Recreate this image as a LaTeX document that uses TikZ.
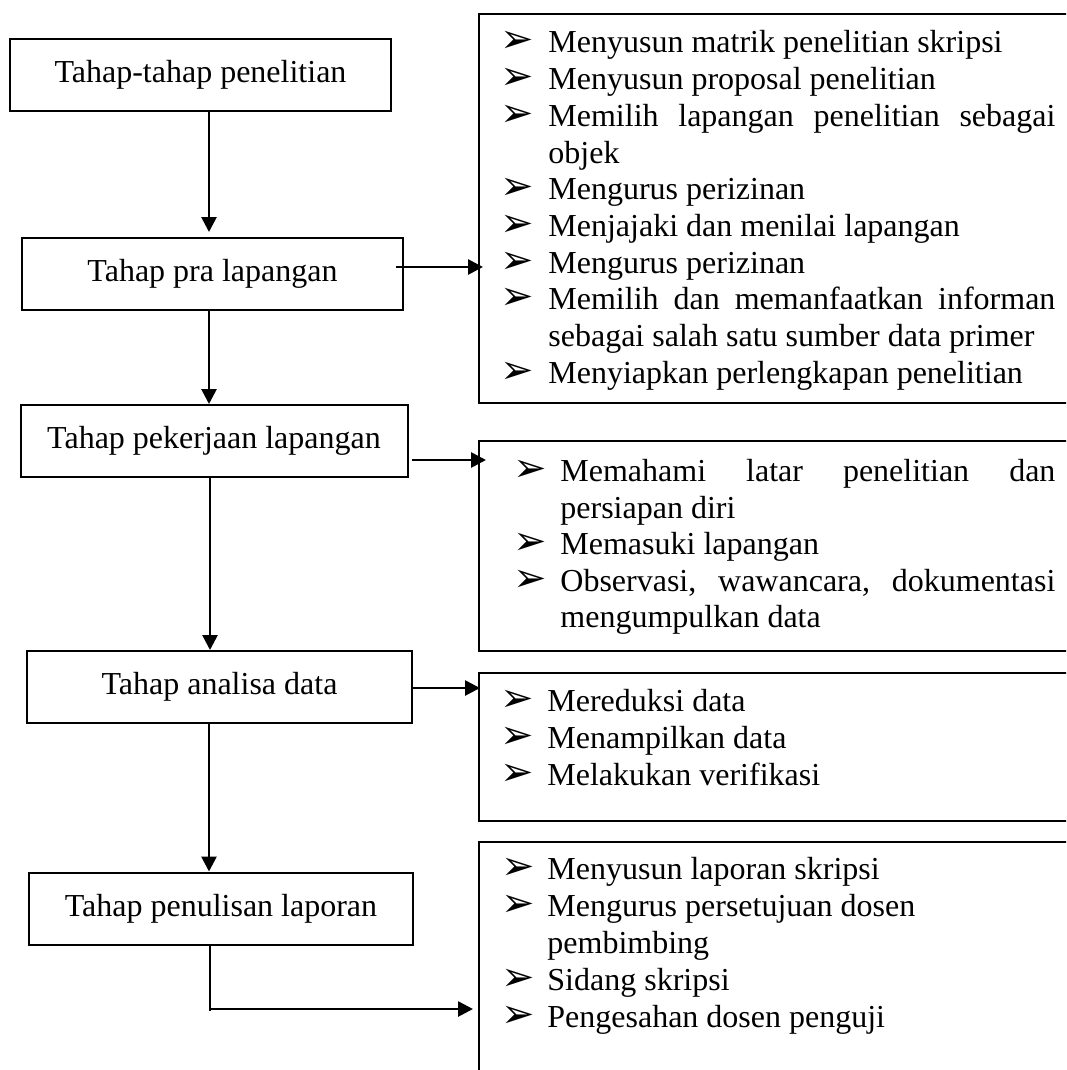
\documentclass[tikz,border=0pt]{standalone}
\usepackage{fontspec}
\setmainfont{Liberation Serif}
\newfontfamily\dejavu{DejaVu Sans}
\usetikzlibrary{arrows.meta,calc}
\begin{document}
\begin{tikzpicture}[x=0.5pt,y=-0.5pt,
  txt/.style={font=\fontsize{16}{18.35}\selectfont},
  stage/.style={txt,draw,line width=1pt,minimum height=36pt,inner sep=0pt},
  panel/.style={draw,line width=1pt,anchor=north west,inner sep=0pt,minimum width=320pt},
  item/.style={txt,anchor=base west,inner sep=0pt},
  bul/.style={anchor=base west,inner sep=0pt,font=\dejavu\fontsize{20}{20}\selectfont},
  arr/.style={line width=1.35pt,-{Triangle[length=7.5pt,width=7.5pt]}},
  plain/.style={line width=1pt}]
\clip (0,0) rectangle (1066,1070);
\fill[white] (0,0) rectangle (1066,1070);
% stages
\node[stage,minimum width=190.5pt] (A) at (200.5,75) {Tahap-tahap penelitian};
\node[stage,minimum width=190.5pt] (B) at (212.5,274) {Tahap pra lapangan};
\node[stage,minimum width=193.5pt] (C) at (214,441) {Tahap pekerjaan lapangan};
\node[stage,minimum width=192.5pt] (D) at (219.5,687) {Tahap analisa data};
\node[stage,minimum width=192pt] (E) at (221,908.5) {Tahap penulisan laporan};
% panels
\node[panel,minimum height=194.5pt] (R1) at (478,13) {};
\node[panel,minimum height=105pt] (R2) at (478,440) {};
\node[panel,minimum height=74pt] (R3) at (478,672) {};
\node[panel,minimum height=130pt] (R4) at (478,841) {};
% panel 1
\node[bul] (b11) at (500,53) {➢};
\node[item] (t11) at (548,53) {Menyusun matrik penelitian skripsi};
\node[bul] (b12) at (500,89.7) {➢};
\node[item] (t12) at (548,89.7) {Menyusun proposal penelitian};
\node[bul] (b13) at (500,126.3) {➢};
\node[item] (t13) at (548,126.3) {\makebox[253.5pt][s]{Memilih lapangan penelitian sebagai}};
\node[item] (t14) at (548,163) {objek};
\node[bul] (b15) at (500,199.7) {➢};
\node[item] (t15) at (548,199.7) {Mengurus perizinan};
\node[bul] (b16) at (500,236.3) {➢};
\node[item] (t16) at (548,236.3) {Menjajaki dan menilai lapangan};
\node[bul] (b17) at (500,273) {➢};
\node[item] (t17) at (548,273) {Mengurus perizinan};
\node[bul] (b18) at (500,309.7) {➢};
\node[item] (t18) at (548,309.7) {\makebox[253.5pt][s]{Memilih dan memanfaatkan informan}};
\node[item] (t19) at (548,346.3) {sebagai salah satu sumber data primer};
\node[bul] (b110) at (500,383) {➢};
\node[item] (t110) at (548,383) {Menyiapkan perlengkapan penelitian};
% panel 2
\node[bul] (b21) at (513,481) {➢};
\node[item] (t21) at (560,481) {\makebox[247.5pt][s]{Memahami latar penelitian dan}};
\node[item] (t22) at (560,518) {persiapan diri};
\node[bul] (b23) at (513,554) {➢};
\node[item] (t23) at (560,554) {Memasuki lapangan};
\node[bul] (b24) at (513,591) {➢};
\node[item] (t24) at (560,591) {\makebox[247.5pt][s]{Observasi, wawancara, dokumentasi}};
\node[item] (t25) at (560,627) {mengumpulkan data};
% panel 3
\node[bul] (b31) at (500,711) {➢};
\node[item] (t31) at (547,711) {Mereduksi data};
\node[bul] (b32) at (500,748) {➢};
\node[item] (t32) at (547,748) {Menampilkan data};
\node[bul] (b33) at (500,785) {➢};
\node[item] (t33) at (547,785) {Melakukan verifikasi};
% panel 4
\node[bul] (b41) at (501,879) {➢};
\node[item] (t41) at (547,879) {Menyusun laporan skripsi};
\node[bul] (b42) at (501,916) {➢};
\node[item] (t42) at (547,916) {Mengurus persetujuan dosen};
\node[item] (t43) at (547,953) {pembimbing};
\node[bul] (b44) at (501,990) {➢};
\node[item] (t44) at (547,990) {Sidang skripsi};
\node[bul] (b45) at (501,1027) {➢};
\node[item] (t45) at (547,1027) {Pengesahan dosen penguji};
% vertical connectors
\coordinate (vx) at (209,0);
\draw[arr] (A.south -| vx) -- ($(B.north -| vx)+(0,-5)$);
\draw[arr] (B.south -| vx) -- (C.north -| vx);
\draw[arr] ($(C.south -| vx)+(1,0)$) -- ($(D.north -| vx)+(1,0)$);
\draw[arr] (D.south -| vx) -- (E.north -| vx);
% horizontal connectors
\draw[arr] ($(B.east)+(-8,-7)$) -- ($(B.east -| R1.west)+(5,-7)$);
\draw[arr] ($(C.east)+(3,19)$) -- ($(C.east -| R2.west)+(8,19)$);
\draw[arr] ($(D.east)+(0,1)$) -- ($(D.east -| R3.west)+(2,1)$);
\coordinate (bend) at (210,1009);
\draw[plain] (E.south -| bend) -- ($(bend)+(0,2)$);
\draw[arr] (bend) -- ($(bend -| R4.west)+(-5,0)$);
\end{tikzpicture}
\end{document}
